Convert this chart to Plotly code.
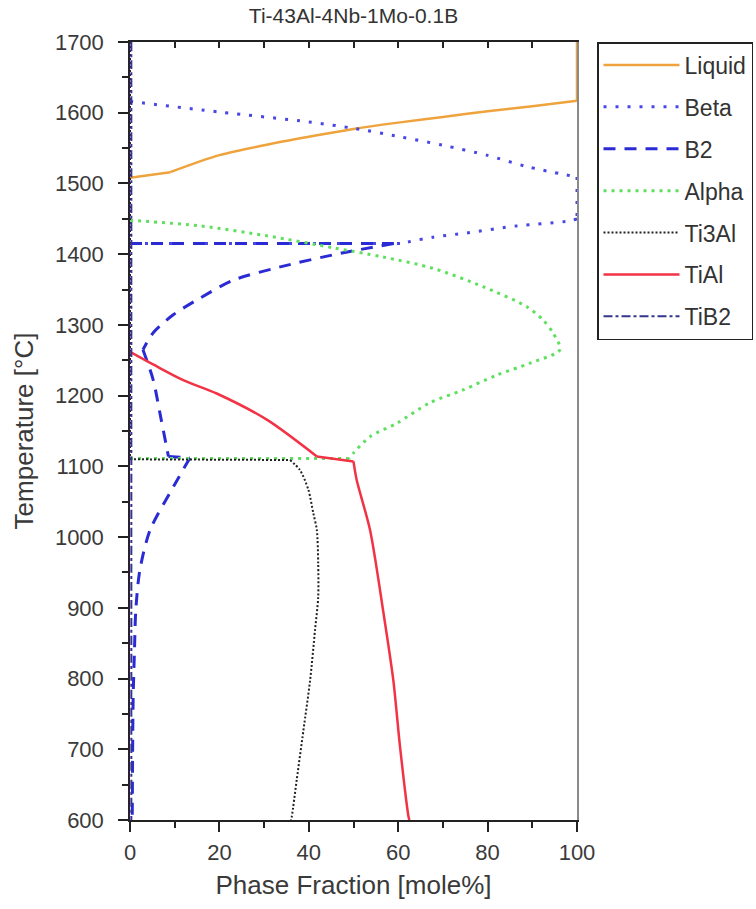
import plotly.graph_objects as go

# ---------------- data (fraction %, temperature °C); None = break between line pieces ----------------
liquid_x = [0, 9, None, 9, 20, 30, 40, 50, 60, 70, 80, 90, 100, None, 100, 100]
liquid_t = [1508, 1516, None, 1516, 1540, 1554, 1566, 1577, 1586, 1594, 1602, 1609, 1617, None, 1617, 1700]

beta_x = [0, 20, 40, 50, 60.4, 70, 79.8, 88.7, 100, None, 100, 100, None,
          100, 98.4, 86.5, 75.3, 67.8, 60.4, None, 60.4, 0]
beta_t = [1616, 1601, 1587, 1578, 1566, 1554, 1540, 1524, 1509, None, 1509, 1450, None,
          1450, 1447, 1440, 1430, 1424, 1415, None, 1415, 1415]

b2_x = [0, 59, None, 59, 47.7, 33.6, 23, 15.7, 9.6, 5.2, 2.9, None, 2.9, 5.2, 6.7, 8.6, None,
        8.6, 13.4, None, 13.4, 9.7, 4.5, 2.2, 1.3, 1.0, 0.7, 0.5]
b2_t = [1415, 1415, None, 1415, 1402, 1382, 1363, 1338, 1314, 1289, 1265, None, 1265, 1222, 1175, 1114, None,
        1114, 1112, None, 1112, 1071, 1010, 953, 897, 840, 770, 600]

alpha_x = [0, 15.7, 30.6, 45.5, 56.6, 67.8, 79, 88.7, 92.4, 94.7, 96.2, 89.5, 82, 74.5, 67.1, 59.7, 53.7, 50, 49,
           None, 49, 0]
alpha_t = [1448, 1440, 1426, 1409, 1396, 1380, 1354, 1326, 1307, 1288, 1265, 1246, 1229, 1208, 1190, 1161, 1142, 1119, 1111,
           None, 1111, 1111]

ti3al_x = [0, 0, None, 0, 35.8, None, 35.8, 38, 39.9, 41, 41.8, 42.1, 42.1, 41.4, 40.3, 38.8, 37.3, 36.2, 36]
ti3al_t = [1700, 1110, None, 1110, 1109, None, 1109, 1095, 1067, 1034, 1010, 963, 915, 869, 798, 727, 657, 605, 600]

tial_x = [0, 5.5, 11.9, 19.4, 30.6, 41.8, None, 41.8, 50, None, 50, 50.7, 53.7, 56.7, 58.9, 60.4, 62.3, 62.5]
tial_t = [1262, 1243, 1222, 1203, 1166, 1114, None, 1114, 1107, None, 1107, 1081, 1010, 893, 798, 704, 605, 600]

tib2_x = [0.3, 0.3, 0.3, 0.3]
tib2_t = [1700, 1500, 1100, 600]

title_text = "Ti-43Al-4Nb-1Mo-0.1B"
x_title = "Phase Fraction [mole%]"
y_title = "Temperature [°C]"

# ---------------- figure ----------------
FONT = "Liberation Sans, Arial, sans-serif"
series = [
    ("Liquid", liquid_x, liquid_t, "#EFA33C", 2.5, "solid"),
    ("Beta", beta_x, beta_t, "#4747E6", 3, "3px,9px"),
    ("B2", b2_x, b2_t, "#2B2BD6", 3, "12px,9px"),
    ("Alpha", alpha_x, alpha_t, "#5EE05E", 3, "3px,5px"),
    ("Ti3Al", ti3al_x, ti3al_t, "#222222", 2, "2px,2px"),
    ("TiAl", tial_x, tial_t, "#F23245", 2.5, "solid"),
    ("TiB2", tib2_x, tib2_t, "#35358F", 2, "9px,3px,3px,3px"),
]

fig = go.Figure()
for name, xs, ts, col, w, dash in series:
    fig.add_trace(go.Scatter(
        x=xs, y=ts, mode="lines", name=name, legendgroup=name, connectgaps=False,
        line=dict(color=col, width=w, dash=dash, shape="spline", smoothing=0.8),
    ))

axis_font = dict(family=FONT, size=22, color="#3a3a3a")
fig.update_layout(
    width=756, height=909,
    margin=dict(l=130, r=179, t=42, b=89, autoexpand=False),
    paper_bgcolor="white", plot_bgcolor="white",
    title=dict(text=title_text, x=(130 + 447 / 2) / 756, xanchor="center",
               y=1 - 16 / 909, yanchor="middle",
               font=dict(family=FONT, size=21, color="#333333")),
    showlegend=True,
    legend=dict(
        x=(597 - 130) / 447, xanchor="left", y=1.0, yanchor="top",
        bgcolor="white", bordercolor="#222222", borderwidth=1.5,
        font=dict(family=FONT, size=23, color="#333333"),
        tracegroupgap=9, itemwidth=76,
    ),
    xaxis=dict(
        range=[0, 100], dtick=20, tick0=0, showgrid=False, zeroline=False,
        showline=True, linecolor="#222222", linewidth=1.5,
        ticks="outside", ticklen=10, tickwidth=1.5, tickcolor="#222222",
        minor=dict(dtick=10, ticks="outside", ticklen=6, tickcolor="#222222", showgrid=False),
        tickfont=axis_font, ticklabelstandoff=2,
        title=dict(text=x_title, font=dict(family=FONT, size=26, color="#3a3a3a"), standoff=12),
    ),
    yaxis=dict(
        range=[600, 1700], dtick=100, tick0=600, showgrid=False, zeroline=False,
        showline=True, linecolor="#2a2030", linewidth=1.5,
        ticks="outside", ticklen=10, tickwidth=1.5, tickcolor="#222222",
        minor=dict(dtick=50, ticks="outside", ticklen=6, tickcolor="#222222", showgrid=False),
        tickfont=axis_font, ticklabelstandoff=10,
        title=dict(text=y_title, font=dict(family=FONT, size=26, color="#3a3a3a"), standoff=14),
    ),
    xaxis2=dict(
        overlaying="x", side="top", range=[0, 100], dtick=10, tick0=0,
        showgrid=False, zeroline=False, showticklabels=False,
        showline=True, linecolor="#222222", linewidth=1.5,
        ticks="inside", ticklen=6, tickwidth=1.5, tickcolor="#222222",
    ),
    yaxis2=dict(
        overlaying="y", side="right", range=[600, 1700],
        showgrid=False, zeroline=False, showticklabels=False, ticks="",
        showline=True, linecolor="#8a8a8a", linewidth=1.5,
    ),
)
# invisible trace to activate secondary axes
fig.add_trace(go.Scatter(x=[0], y=[600], xaxis="x2", yaxis="y2", mode="markers",
                         marker=dict(opacity=0), showlegend=False, hoverinfo="skip"))

fig.write_html("out.html")
